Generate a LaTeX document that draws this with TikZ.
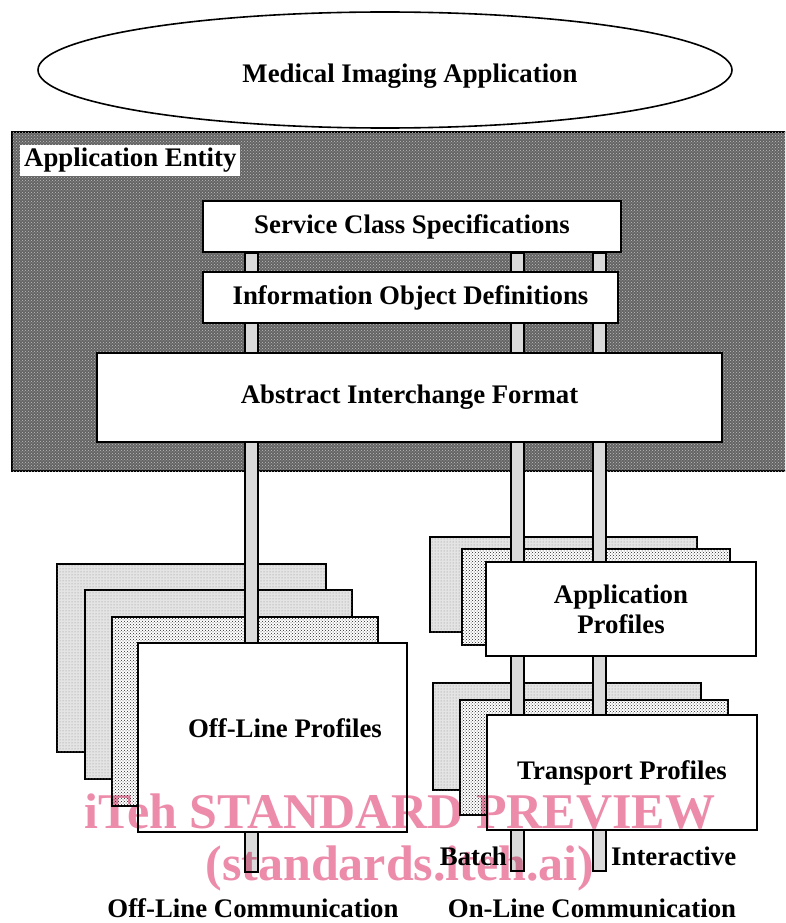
\documentclass[tikz,border=0pt]{standalone}
\usepackage{fontspec}
\setmainfont{Liberation Serif}
\usepackage{tikz}
\usetikzlibrary{shapes.geometric, positioning, calc, patterns}
\definecolor{entitygray}{RGB}{100,100,100}
\definecolor{stipplegray}{RGB}{228,228,228}
\definecolor{pipegray}{RGB}{218,218,218}
\definecolor{stamppink}{RGB}{236,140,170}
\newcommand{\labelfont}{\fontsize{26.8}{30}\selectfont\bfseries}

\begin{document}
\begin{tikzpicture}[x=1pt, y=-1pt,
    box/.style={draw, line width=2.2pt, fill=white, inner sep=0pt, align=center, font=\labelfont},
    lightcard/.style={draw, line width=2.2pt, fill=stipplegray, postaction={pattern=dots, pattern color=black!45}},
    dotcard/.style={draw, line width=2.2pt, fill=white, postaction={pattern=crosshatch dots, pattern color=black!85}},
    pipe/.style={draw, line width=2pt, fill=pipegray},
    txt/.style={font=\labelfont, inner sep=0pt},
    stamp/.style={font=\fontsize{50}{52}\selectfont\bfseries, text=stamppink, inner sep=0pt, anchor=base}]
    \clip (0,0) rectangle (785,923);

    % application on top
    \node[ellipse, draw, line width=1.6pt, minimum width=694pt, minimum height=116pt, inner sep=0pt] (mia) at (385,70) {};
    \node[txt, anchor=base] (mialbl) at (410,83) {Medical Imaging Application};

    % application entity
    \draw[line width=2.2pt, fill=entitygray, postaction={pattern=crosshatch dots, pattern color=black!25}] (12,132) rectangle (800,471);
    \node[txt, fill=white, inner xsep=4pt, inner ysep=3pt, anchor=north west] (aelbl) at (20,145) {Application Entity};

    % stacked cards behind the profiles
    \draw[lightcard] (57,564) rectangle (326,752);
    \draw[lightcard] (85,590) rectangle (352,779);
    \draw[dotcard] (112,617) rectangle (378,806);
    \draw[lightcard] (430,537) rectangle (697,632);
    \draw[dotcard] (462,549) rectangle (730,645);
    \draw[lightcard] (433,683) rectangle (701,790);
    \draw[dotcard] (460,700) rectangle (728,815);

    % layers
    \node[box, minimum width=418pt, minimum height=51pt] (scs) at (412,226.5) {Service Class Specifications};

    % pipes
    \coordinate (offend) at (251,872);
    \coordinate (batchend) at (517,871);
    \coordinate (interend) at (599,871);
    \foreach \e in {offend, batchend, interend}
        \draw[pipe] ($(scs.south -| \e)+(-6.5,0)$) rectangle ($(\e)+(6.5,0)$);

    \node[box, minimum width=415pt, minimum height=51pt] (iod) at (410.5,297.5) {Information Object Definitions};
    \node[box, minimum width=625pt, minimum height=89pt] (aif) at (409.5,397.5) {Abstract Interchange Format};

    % profiles
    \node[box, minimum width=269pt, minimum height=189pt] (offprof) at (272.5,737.5) {};
    \node[txt] (offlbl) at (285,728) {Off-Line Profiles};
    \node[box, minimum width=270pt, minimum height=94pt] (approf) at (621,609) {Application\\Profiles};
    \node[box, minimum width=270pt, minimum height=115pt] (trprof) at (622,772.5) {Transport Profiles};

    % communication labels
    \node[txt, anchor=base east] (batch) at (507,865) {Batch};
    \node[txt, anchor=base west] (inter) at (611,865) {Interactive};
    \node[txt, anchor=base] (offcomm) at (253,917) {Off-Line Communication};
    \node[txt, anchor=base] (oncomm) at (592,917) {On-Line Communication};

    % watermark
    \begin{scope}[blend mode=multiply]
        \node[stamp] (wmtop) at (400,828) {iTeh STANDARD PREVIEW};
        \node[stamp] (wmbot) at (400,880) {(standards.iteh.ai)};
    \end{scope}
\end{tikzpicture}
\end{document}
